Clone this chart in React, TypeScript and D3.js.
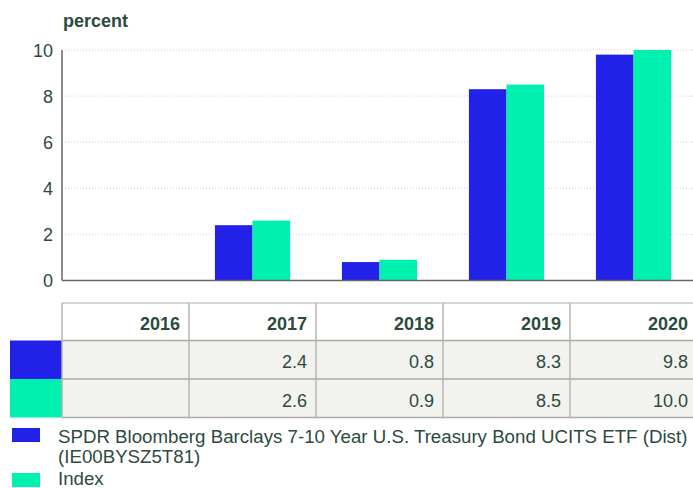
import React from "react";
import * as d3 from "d3";

const categories = ["2016", "2017", "2018", "2019", "2020"];
const fundValues: (number | null)[] = [null, 2.4, 0.8, 8.3, 9.8];
const indexValues: (number | null)[] = [null, 2.6, 0.9, 8.5, 10.0];
const seriesNames = [
  "SPDR Bloomberg Barclays 7-10 Year U.S. Treasury Bond UCITS ETF (Dist)",
  "Index",
];
const fundIsin = "(IE00BYSZ5T81)";
const yTicks = [0, 2, 4, 6, 8, 10];

const W = 693;
const H = 488;
const left = 62;
const right = 697;
const top = 50;
const bottom = 280.5;
const BLUE = "#2121e8";
const GREEN = "#00f0b0";
const TEXT = "#2c4a3e";
const FONT = "'Liberation Sans', Arial, sans-serif";

export default function App() {
  const x = d3.scaleBand<string>().domain(categories).range([left, right]).paddingInner(0).paddingOuter(0);
  const inner = d3
    .scaleBand<string>()
    .domain(["fund", "index"])
    .range([0, x.bandwidth()])
    .paddingInner(0)
    .paddingOuter(0.69);
  const y = d3.scaleLinear().domain([0, 10]).range([bottom, top]);
  const series = [
    { key: "fund", values: fundValues, color: BLUE },
    { key: "index", values: indexValues, color: GREEN },
  ];

  const headerTop = 303;
  const rowTops = [340.5, 379];
  const rowH = 38.5;
  const fmt = (v: number | null) => (v == null ? "" : d3.format(".1f")(v));

  return (
    <svg
      width={W}
      height={H}
      style={{ position: "absolute", left: 0, top: 0, background: "#fff" }}
      fontFamily={FONT}
    >
      <text x={63} y={27} fontSize={18} fontWeight="bold" fill={TEXT}>
        percent
      </text>
      {yTicks.map((t) => (
        <g key={t}>
          {t > 0 && (
            <line
              x1={left}
              x2={W}
              y1={y(t)}
              y2={y(t)}
              stroke="#cfcfcf"
              strokeDasharray="1,2"
            />
          )}
          <text x={53} y={y(t) + 6.5} fontSize={18} textAnchor="end" fill={TEXT}>
            {t}
          </text>
        </g>
      ))}
      {series.map((s) =>
        categories.map((c, i) => {
          const v = s.values[i];
          if (v == null) return null;
          return (
            <rect
              key={s.key + c}
              x={(x(c) as number) + (inner(s.key) as number)}
              width={inner.bandwidth()}
              y={y(v)}
              height={y(0) - y(v)}
              fill={s.color}
            />
          );
        })
      )}
      <line x1={left} x2={left} y1={top} y2={bottom} stroke="#666" strokeWidth={1.5} />
      <line x1={left} x2={W} y1={bottom} y2={bottom} stroke="#666" strokeWidth={1.5} />

      {/* table */}
      <line x1={left} x2={W} y1={headerTop} y2={headerTop} stroke="#c8c8c8" strokeWidth={1.5} />
      {categories.map((c) => (
        <text
          key={"h" + c}
          x={(x(c) as number) + x.bandwidth() - 9}
          y={headerTop + 27}
          fontSize={18}
          fontWeight="bold"
          textAnchor="end"
          fill={TEXT}
        >
          {c}
        </text>
      ))}
      {series.map((s, r) => (
        <g key={"row" + s.key}>
          <rect x={10} y={rowTops[r]} width={left - 10} height={rowH} fill={s.color} />
          <rect x={left} y={rowTops[r]} width={W - left} height={rowH} fill="#f2f2ee" />
          {categories.map((c, i) => (
            <text
              key={"v" + s.key + c}
              x={(x(c) as number) + x.bandwidth() - 9}
              y={rowTops[r] + 27.5}
              fontSize={18}
              textAnchor="end"
              fill={TEXT}
            >
              {fmt(s.values[i])}
            </text>
          ))}
        </g>
      ))}
      {[rowTops[0], rowTops[1], rowTops[1] + rowH].map((yy, i) => (
        <line key={"hl" + i} x1={left} x2={W} y1={yy} y2={yy} stroke="#aaa" strokeWidth={1.5} />
      ))}
      {categories.map((c) => (
        <line
          key={"vl" + c}
          x1={x(c) as number}
          x2={x(c) as number}
          y1={headerTop}
          y2={rowTops[1] + rowH}
          stroke="#b4b4b4"
          strokeWidth={1.5}
        />
      ))}

      {/* legend */}
      <rect x={12} y={428} width={28} height={14} fill={BLUE} />
      <text x={58} y={443} fontSize={18.7} fill={TEXT}>
        {seriesNames[0]}
      </text>
      <text x={58} y={463} fontSize={18.7} fill={TEXT}>
        {fundIsin}
      </text>
      <rect x={12} y={473} width={28} height={14} fill={GREEN} />
      <text x={58} y={485} fontSize={18.7} fill={TEXT}>
        {seriesNames[1]}
      </text>
    </svg>
  );
}
